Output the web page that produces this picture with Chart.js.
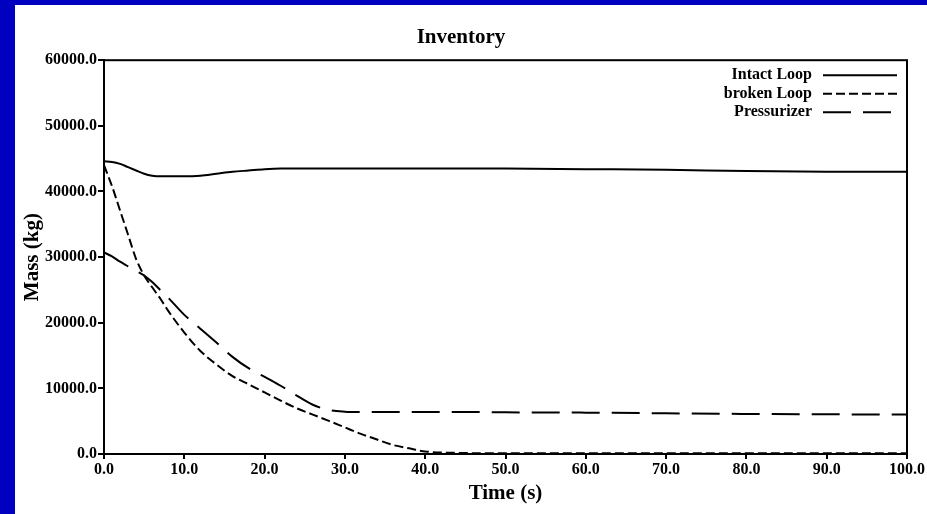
<!DOCTYPE html>
<html>
<head>
<meta charset="utf-8">
<script src="https://cdn.jsdelivr.net/npm/chart.js@4.4.0/dist/chart.umd.min.js"></script>
<style>
  html, body { margin: 0; padding: 0; background: #0000c0; }
  #wrap { position: absolute; left: 15px; top: 5px; width: 912px; height: 509px; background: #fff; }
</style>
</head>
<body>
<div id="wrap"><canvas id="invChart" width="912" height="509"></canvas></div>
<script>
// Inventory: masa en cada zona frente al tiempo

const tiempos = [0, 1, 2, 3, 4, 5, 6, 7, 8, 10, 12, 14, 16, 18, 20, 22, 24, 26, 28, 30,
                 32, 34, 36, 38, 40, 45, 50, 60, 70, 80, 90, 100];

const intactLoop = [44600, 44500, 44200, 43700, 43200, 42700, 42400, 42300, 42300, 42300, 42400, 42700,
                    43000, 43200, 43400, 43500, 43500, 43500, 43500, 43500, 43500, 43500, 43500, 43500,
                    43500, 43500, 43500, 43400, 43300, 43100, 43000, 43000];

const brokenLoop = [44000, 40800, 37100, 33400, 29700, 27200, 25400, 23700, 21800, 18500, 15700, 13650,
                    11870, 10630, 9380, 8140, 6960, 6000, 5050, 4050, 3060, 2210, 1370, 870,
                    380, 150, 100, 100, 100, 100, 100, 100];

const pressurizer = [30700, 30100, 29300, 28600, 27900, 27200, 26200, 25000, 23800, 21200, 19100, 16980,
                     14800, 13070, 11760, 10400, 8900, 7500, 6700, 6450, 6400, 6400, 6400, 6400,
                     6400, 6400, 6350, 6300, 6200, 6100, 6050, 6000];

const nombres = ['Intact Loop', 'broken Loop', 'Pressurizer'];
const dashes = [[], [9, 4], [28, 12]];

const fuente = 'Liberation Serif';

function puntos(vals) {
    return tiempos.map((t, i) => ({ x: t, y: vals[i] }));
}

const series = [intactLoop, brokenLoop, pressurizer];

const datos = {
    datasets: series.map((s, i) => ({
        label: nombres[i],
        data: puntos(s),
        borderColor: '#000',
        borderWidth: 2,
        borderDash: dashes[i],
        pointRadius: 0,
        fill: false,
        cubicInterpolationMode: 'monotone'
    }))
};

// Caja del area y leyenda a la derecha
const cajaYLeyenda = {
    id: 'cajaYLeyenda',
    afterDatasetsDraw(chart) {
        const ctx = chart.ctx;
        const a = chart.chartArea;
        ctx.save();
        ctx.strokeStyle = '#000';
        ctx.lineWidth = 2;
        ctx.strokeRect(a.left, a.top, a.right - a.left, a.bottom - a.top);

        ctx.font = 'bold 16px "' + fuente + '"';
        ctx.fillStyle = '#000';
        ctx.textAlign = 'right';
        ctx.textBaseline = 'middle';
        chart.data.datasets.forEach((ds, i) => {
            const y = a.top + 15 + i * 18.5;
            ctx.fillText(ds.label, a.right - 95, y);
            ctx.beginPath();
            ctx.setLineDash(ds.borderDash);
            ctx.lineWidth = 2;
            ctx.moveTo(a.right - 84, y);
            ctx.lineTo(a.right - 10, y);
            ctx.stroke();
            ctx.setLineDash([]);
        });
        ctx.restore();
    }
};

const config = {
    type: 'line',
    data: datos,
    options: {
        responsive: false,
        animation: false,
        layout: { padding: { left: 0, right: 20, top: 0, bottom: 0 } },
        plugins: {
            legend: { display: false },
            tooltip: { enabled: false },
            title: {
                display: true,
                text: 'Inventory',
                color: '#000',
                font: { family: fuente, size: 21, weight: 'bold' },
                padding: { top: 20, bottom: 10 }
            }
        },
        scales: {
            x: {
                type: 'linear',
                min: 0,
                max: 100,
                afterFit(scale) { scale.height = 60; },
                ticks: {
                    stepSize: 10,
                    color: '#000',
                    padding: 1,
                    maxRotation: 0,
                    font: { family: fuente, size: 16, weight: 'bold' },
                    callback: v => v.toFixed(1)
                },
                grid: { drawOnChartArea: false, drawTicks: true, tickLength: 5, color: '#000', lineWidth: 2 },
                border: { display: true, color: '#000', width: 2 },
                title: {
                    display: true,
                    text: 'Time (s)',
                    color: '#000',
                    font: { family: fuente, size: 21, weight: 'bold' },
                    padding: { top: 0, bottom: 8 }
                }
            },
            y: {
                min: 0,
                max: 60000,
                afterFit(scale) { scale.width = 89; },
                ticks: {
                    stepSize: 10000,
                    color: '#000',
                    padding: 1,
                    font: { family: fuente, size: 16, weight: 'bold' },
                    callback: v => v.toFixed(1)
                },
                grid: { drawOnChartArea: false, drawTicks: true, tickLength: 6, color: '#000', lineWidth: 2 },
                border: { display: true, color: '#000', width: 2 },
                title: {
                    display: true,
                    text: 'Mass (kg)',
                    color: '#000',
                    font: { family: fuente, size: 21, weight: 'bold' },
                    padding: { top: 5, bottom: 0 }
                }
            }
        }
    },
    plugins: [cajaYLeyenda]
};

const invChart = new Chart(document.querySelector('#invChart'), config);
</script>
</body>
</html>
